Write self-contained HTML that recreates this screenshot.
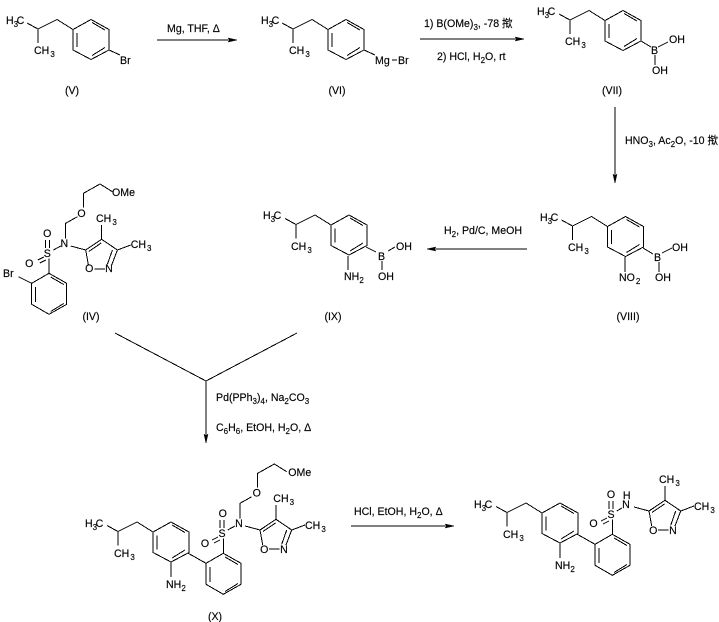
<!DOCTYPE html>
<html><head><meta charset="utf-8"><style>
html,body{margin:0;padding:0;background:#fff}
svg{display:block}
text{font-family:"Liberation Sans","Noto Sans CJK SC",sans-serif;font-size:10.6px;fill:#000;stroke:#000;stroke-width:.15}
.s{font-size:8px}
.b line,.b polyline,.b polygon{stroke:#000;stroke-width:1;fill:none;shape-rendering:crispEdges}
.a{fill:#000;stroke:#000;stroke-width:.5}
</style></head><body>
<svg width="719" height="622" viewBox="0 0 719 622" xmlns="http://www.w3.org/2000/svg">
<defs>
<g id="frag" class="b">
<polyline points="27,23 38,29 57,19.5 73,29.5"/>
<line x1="38" y1="29" x2="38" y2="43"/>
<polygon points="73,29.5 91,19.5 109,29.5 109,50 91,59.5 73,50"/>
<line x1="77" y1="33" x2="77" y2="47"/>
<line x1="92" y1="22.5" x2="105" y2="30"/>
<line x1="92" y1="55.5" x2="105" y2="47.5"/>
</g>
<g id="ring2" class="b">
<polygon points="206,563.3 223.3,553.3 241,563.3 241,584.3 223.3,594.3 206,584.3"/>
<line x1="225" y1="557" x2="238" y2="564.5"/>
<line x1="210" y1="567" x2="210" y2="582"/>
<line x1="225" y1="591.5" x2="238" y2="583.5"/>
<line x1="223.3" y1="553.3" x2="223.3" y2="538.5"/>
<line x1="220" y1="520" x2="220" y2="528"/>
<line x1="224" y1="520" x2="224" y2="528"/>
<line x1="218" y1="537" x2="212" y2="540"/>
<line x1="220" y1="540" x2="214" y2="543"/>
</g>
<g id="isox" class="b">
<polyline points="245,526 260,530 276,519.3 291.7,530 286,545"/>
<line x1="260" y1="530" x2="262.7" y2="545"/>
<line x1="263" y1="531.5" x2="275.5" y2="523"/>
<line x1="286.7" y1="530" x2="281.7" y2="544.3"/>
<line x1="269" y1="549" x2="279.3" y2="549"/>
<line x1="276" y1="519.3" x2="276" y2="505"/>
<line x1="291.7" y1="530" x2="305" y2="525"/>
</g>
<g id="chain" class="b">
<line x1="227.7" y1="530" x2="235" y2="526"/>
<polyline points="240,518.3 240,503.3 251.7,496.7"/>
<polyline points="257.7,487.3 257.7,473.3 274.3,464 286.7,471.7"/>
</g>
</defs>

<!-- V -->
<use href="#frag"/>
<text x="6" y="24">H<tspan class="s" dy="3">3</tspan><tspan dy="-3" dx="-1.5">C</tspan></text>
<text x="34" y="54">CH<tspan class="s" dy="3" dx="1">3</tspan></text>
<g class="b"><line x1="109" y1="50" x2="120" y2="55"/></g>
<text x="120" y="64">Br</text>
<text x="72" y="94" text-anchor="middle">(V)</text>

<!-- VI -->
<use href="#frag" x="255"/>
<text x="261" y="24">H<tspan class="s" dy="3">3</tspan><tspan dy="-3" dx="-1.5">C</tspan></text>
<text x="289" y="54">CH<tspan class="s" dy="3" dx="1">3</tspan></text>
<g class="b"><line x1="364" y1="50" x2="375" y2="55"/><line x1="392" y1="60" x2="397" y2="60"/></g>
<text x="375" y="64">Mg</text>
<text x="398" y="64">Br</text>
<text x="337" y="94" text-anchor="middle">(VI)</text>

<!-- VII -->
<use href="#frag" x="532" y="-9"/>
<text x="537" y="15">H<tspan class="s" dy="3">3</tspan><tspan dy="-3" dx="-1.5">C</tspan></text>
<text x="565" y="45">CH<tspan class="s" dy="3" dx="1">3</tspan></text>
<g class="b"><line x1="641" y1="41" x2="651" y2="47"/><line x1="658" y1="47" x2="668" y2="42"/><line x1="655" y1="55" x2="655" y2="65"/></g>
<text x="651" y="54">B</text>
<text x="669" y="43">OH</text>
<text x="652" y="74">OH</text>
<text x="612" y="94" text-anchor="middle">(VII)</text>

<!-- VIII -->
<use href="#frag" x="534.5" y="197"/>
<text x="540" y="221">H<tspan class="s" dy="3">3</tspan><tspan dy="-3" dx="-1.5">C</tspan></text>
<text x="568" y="251">CH<tspan class="s" dy="3" dx="1">3</tspan></text>
<g class="b"><line x1="643" y1="248" x2="653" y2="254"/><line x1="662" y1="253" x2="672" y2="248"/><line x1="659" y1="262" x2="659" y2="272"/><line x1="625" y1="257" x2="625" y2="272"/></g>
<text x="654" y="261">B</text>
<text x="672" y="251">OH</text>
<text x="655" y="281">OH</text>
<text x="619" y="281">NO<tspan class="s" dy="3" dx="1">2</tspan></text>
<text x="628" y="320" text-anchor="middle">(VIII)</text>

<!-- IX -->
<use href="#frag" x="258" y="195.5"/>
<text x="263" y="219">H<tspan class="s" dy="3">3</tspan><tspan dy="-3" dx="-1.5">C</tspan></text>
<text x="291" y="250">CH<tspan class="s" dy="3" dx="1">3</tspan></text>
<g class="b"><line x1="366" y1="247" x2="376" y2="252"/><line x1="388" y1="251" x2="395" y2="247"/><line x1="382" y1="261" x2="382" y2="270"/><line x1="348" y1="256" x2="348" y2="270"/></g>
<text x="378" y="260">B</text>
<text x="396" y="250">OH</text>
<text x="378" y="280">OH</text>
<text x="344" y="280">NH<tspan class="s" dy="3">2</tspan></text>
<text x="333" y="320" text-anchor="middle">(IX)</text>

<!-- IV -->
<g transform="translate(-174.3,-280)">
<use href="#ring2"/><use href="#isox"/><use href="#chain"/>
</g>
<g class="b"><line x1="31.7" y1="283.3" x2="18.3" y2="276.7"/></g>
<text x="3" y="277">Br</text>
<text x="47.3" y="257" text-anchor="middle">S</text>
<text x="47.3" y="237" text-anchor="middle">O</text>
<text x="29.3" y="267" text-anchor="middle">O</text>
<text x="64.3" y="247" text-anchor="middle">N</text>
<text x="81.5" y="217" text-anchor="middle">O</text>
<text x="112" y="196">OMe</text>
<text x="89.3" y="272" text-anchor="middle">O</text>
<text x="109" y="272" text-anchor="middle">N</text>
<text x="96" y="222">CH<tspan class="s" dy="3" dx="1">3</tspan></text>
<text x="130.7" y="248">CH<tspan class="s" dy="3" dx="1">3</tspan></text>
<text x="91" y="320" text-anchor="middle">(IV)</text>

<!-- X -->
<use href="#frag" x="80" y="502.5"/>
<text x="85" y="527">H<tspan class="s" dy="3">3</tspan><tspan dy="-3" dx="-1.5">C</tspan></text>
<text x="114" y="557">CH<tspan class="s" dy="3" dx="1">3</tspan></text>
<g class="b"><line x1="171" y1="562" x2="171" y2="577"/><line x1="188.3" y1="553.3" x2="206" y2="563.3"/></g>
<use href="#ring2"/><use href="#isox"/><use href="#chain"/>
<text x="166" y="588">NH<tspan class="s" dy="3">2</tspan></text>
<text x="222" y="537" text-anchor="middle">S</text>
<text x="222.7" y="517" text-anchor="middle">O</text>
<text x="205" y="547" text-anchor="middle">O</text>
<text x="239" y="527" text-anchor="middle">N</text>
<text x="256.7" y="496.7" text-anchor="middle">O</text>
<text x="288.3" y="476">OMe</text>
<text x="264.3" y="553" text-anchor="middle">O</text>
<text x="284" y="553" text-anchor="middle">N</text>
<text x="273.3" y="502">CH<tspan class="s" dy="3" dx="1">3</tspan></text>
<text x="305" y="529">CH<tspan class="s" dy="3" dx="1">3</tspan></text>
<text x="215" y="620" text-anchor="middle">(X)</text>

<!-- Final -->
<use href="#frag" x="469" y="483.5"/>
<text x="474" y="508">H<tspan class="s" dy="3">3</tspan><tspan dy="-3" dx="-1.5">C</tspan></text>
<text x="503" y="538">CH<tspan class="s" dy="3" dx="1">3</tspan></text>
<g class="b"><line x1="560" y1="543" x2="560" y2="558"/><line x1="577.3" y1="534.3" x2="595" y2="544.3"/>
<line x1="616.7" y1="511" x2="622" y2="508"/></g>
<g transform="translate(389,-19)"><use href="#ring2"/><use href="#isox"/></g>
<text x="555" y="569">NH<tspan class="s" dy="3">2</tspan></text>
<text x="611" y="518" text-anchor="middle">S</text>
<text x="611" y="498" text-anchor="middle">O</text>
<text x="593.5" y="527" text-anchor="middle">O</text>
<text x="626" y="508" text-anchor="middle">N</text>
<text x="626.7" y="499" text-anchor="middle">H</text>
<text x="653.3" y="534" text-anchor="middle">O</text>
<text x="673" y="534" text-anchor="middle">N</text>
<text x="659" y="483">CH<tspan class="s" dy="3" dx="1">3</tspan></text>
<text x="694" y="510">CH<tspan class="s" dy="3" dx="1">3</tspan></text>

<!-- Arrows -->
<g class="b">
<line x1="157" y1="40" x2="236" y2="40"/>
<line x1="420" y1="39" x2="523" y2="39"/>
<line x1="615" y1="107" x2="615" y2="182"/>
<line x1="428" y1="249" x2="527" y2="249"/>
<polyline points="115,333 206,381 297,333"/>
<line x1="206" y1="381" x2="206" y2="442"/>
<line x1="351" y1="526" x2="453" y2="526"/>
</g>
<polygon class="a" points="237,40 228,38 230,40 228,42"/>
<polygon class="a" points="524,39 515,37 517,39 515,41"/>
<polygon class="a" points="615,183 613,174 615,176 617,174"/>
<polygon class="a" points="427,249 436,247 434,249 436,251"/>
<polygon class="a" points="206,443 204,434 206,436 208,434"/>
<polygon class="a" points="454,526 445,524 447,526 445,528"/>

<!-- Reagents -->
<text x="167" y="32">Mg, THF, Δ</text>
<text x="424" y="27">1) B(OMe)<tspan class="s" dy="3">3</tspan><tspan dy="-3">, -78 揿</tspan></text>
<text x="437" y="60">2) HCl, H<tspan class="s" dy="3">2</tspan><tspan dy="-3">O, rt</tspan></text>
<text x="625" y="144">HNO<tspan class="s" dy="3">3</tspan><tspan dy="-3">, Ac</tspan><tspan class="s" dy="3">2</tspan><tspan dy="-3">O, -10 揿</tspan></text>
<text x="444" y="234">H<tspan class="s" dy="3">2</tspan><tspan dy="-3">, Pd/C, MeOH</tspan></text>
<text x="216" y="401">Pd(PPh<tspan class="s" dy="3">3</tspan><tspan dy="-3">)</tspan><tspan class="s" dy="3">4</tspan><tspan dy="-3">, Na</tspan><tspan class="s" dy="3">2</tspan><tspan dy="-3">CO</tspan><tspan class="s" dy="3">3</tspan></text>
<text x="216" y="431">C<tspan class="s" dy="3">6</tspan><tspan dy="-3">H</tspan><tspan class="s" dy="3">6</tspan><tspan dy="-3">, EtOH, H</tspan><tspan class="s" dy="3">2</tspan><tspan dy="-3">O, Δ</tspan></text>
<text x="354" y="515">HCl, EtOH, H<tspan class="s" dy="3">2</tspan><tspan dy="-3">O, Δ</tspan></text>
</svg>
</body></html>
